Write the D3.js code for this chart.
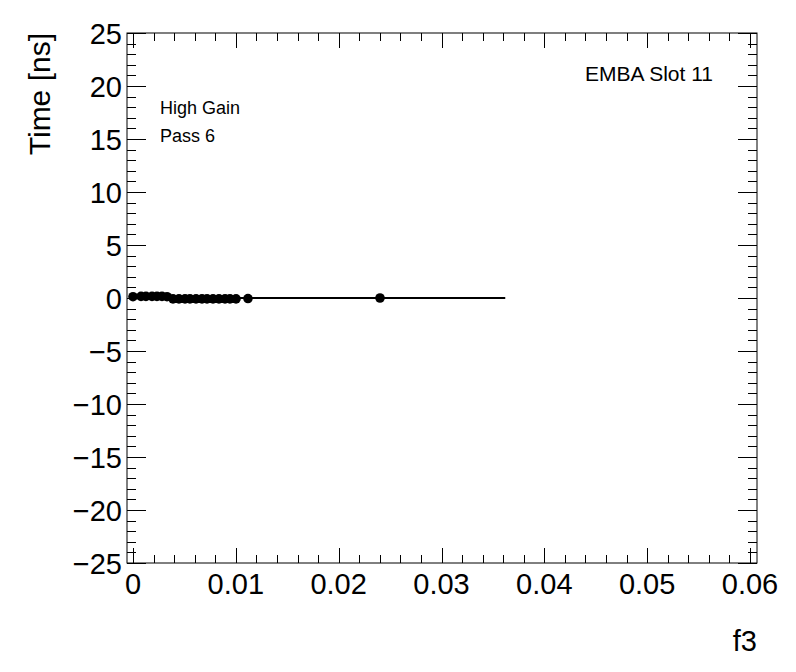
<!DOCTYPE html>
<html>
<head>
<meta charset="utf-8">
<script src="https://cdn.jsdelivr.net/npm/d3@7"></script>
<style>
  body { margin: 0; background: #fff; }
  svg { font-family: "Liberation Sans", Arial, sans-serif; }
</style>
</head>
<body>
<div id="chart"></div>
<script>
// f3 values and mean time per point
let f3Values = [0, 0.00078, 0.00126, 0.00185, 0.00233, 0.00282, 0.00331,
                0.00389, 0.00447, 0.00506, 0.00554, 0.00613, 0.00671, 0.0072,
                0.00778, 0.00836, 0.00895, 0.00943, 0.01002, 0.01118, 0.02402];
let timeValues = [0.12, 0.15, 0.15, 0.15, 0.15, 0.15, 0.12,
                  -0.08, -0.08, -0.08, -0.08, -0.08, -0.08, -0.08,
                  -0.08, -0.08, -0.08, -0.08, -0.08, -0.05, 0.0];
// fitted constant and its range
let fitRange = [0, 0.0362];
let fitValue = 0;
let xTicks = [0, 0.01, 0.02, 0.03, 0.04, 0.05, 0.06];
let yTicks = [-25, -20, -15, -10, -5, 0, 5, 10, 15, 20, 25];

let W = 796, H = 672;
let margin = {top: 33, right: 39, bottom: 109, left: 127},
    width = W - margin.left - margin.right,
    height = H - margin.top - margin.bottom;

let svg = d3.select("#chart")
  .append("svg")
    .attr("width", W)
    .attr("height", H);

let g = svg.append("g")
    .attr("transform", "translate(" + margin.left + "," + margin.top + ")");

// scales
let x = d3.scaleLinear()
    .domain([-0.000583, 0.06068])
    .range([0, width]);
let y = d3.scaleLinear()
    .domain([-25, 25])
    .range([height, 0]);

// minor ticks
let xMinor = d3.range(0, 0.0601, 0.002);
let yMinor = d3.range(-25, 25.01, 1);

// frame
g.append("rect")
    .attr("width", width)
    .attr("height", height)
    .attr("fill", "none")
    .attr("stroke", "#000")
    .attr("stroke-width", 1);

let tickG = g.append("g").attr("stroke", "#000").attr("stroke-width", 1);

// x ticks, bottom and top
xMinor.forEach(function(v) {
  let major = Math.abs(v / 0.01 - Math.round(v / 0.01)) < 1e-6;
  let len = major ? 15 : 8;
  let px = Math.round(x(v)) + 0.5;
  tickG.append("line").attr("x1", px).attr("x2", px).attr("y1", height).attr("y2", height - len);
  tickG.append("line").attr("x1", px).attr("x2", px).attr("y1", 0).attr("y2", len);
});

// y ticks, left and right
yMinor.forEach(function(v) {
  let major = Math.abs(v % 5) < 1e-6;
  let len = major ? 19 : 9;
  let py = Math.round(y(v)) + 0.5;
  tickG.append("line").attr("x1", 0).attr("x2", len).attr("y1", py).attr("y2", py);
  tickG.append("line").attr("x1", width).attr("x2", width - len).attr("y1", py).attr("y2", py);
});

let fmt = function(v) { return v < 0 ? "\u2212" + Math.abs(v) : String(v); };

// tick labels
g.append("g").selectAll("text")
  .data(xTicks)
  .enter().append("text")
    .attr("x", function(d) { return x(d); })
    .attr("y", height + 31)
    .attr("text-anchor", "middle")
    .attr("font-size", 29)
    .text(function(d) { return d; });

g.append("g").selectAll("text")
  .data(yTicks)
  .enter().append("text")
    .attr("x", -5)
    .attr("y", function(d) { return y(d) + 10.5; })
    .attr("text-anchor", "end")
    .attr("font-size", 29)
    .text(fmt);

// axis titles
svg.append("text")
    .attr("x", 757)
    .attr("y", 651)
    .attr("text-anchor", "end")
    .attr("font-size", 29)
    .text("f3");

svg.append("text")
    .attr("transform", "translate(50,33) rotate(-90)")
    .attr("text-anchor", "end")
    .attr("font-size", 30)
    .text("Time [ns]");

// fit line
g.append("line")
    .attr("x1", x(fitRange[0]))
    .attr("x2", x(fitRange[1]))
    .attr("y1", y(fitValue))
    .attr("y2", y(fitValue))
    .attr("stroke", "#000")
    .attr("stroke-width", 2);

// points
g.append("g").selectAll("circle")
  .data(f3Values.map(function(v, i) { return {x: v, y: timeValues[i]}; }))
  .enter().append("circle")
    .attr("cx", function(d) { return x(d.x); })
    .attr("cy", function(d) { return y(d.y); })
    .attr("r", 4.8)
    .attr("fill", "#000");

// labels
svg.append("text")
    .attr("x", 713)
    .attr("y", 81)
    .attr("text-anchor", "end")
    .attr("font-size", 21)
    .text("EMBA Slot 11");

svg.append("text")
    .attr("x", 160)
    .attr("y", 114)
    .attr("font-size", 18)
    .text("High Gain");

svg.append("text")
    .attr("x", 160)
    .attr("y", 142)
    .attr("font-size", 18)
    .text("Pass 6");
</script>
</body>
</html>
